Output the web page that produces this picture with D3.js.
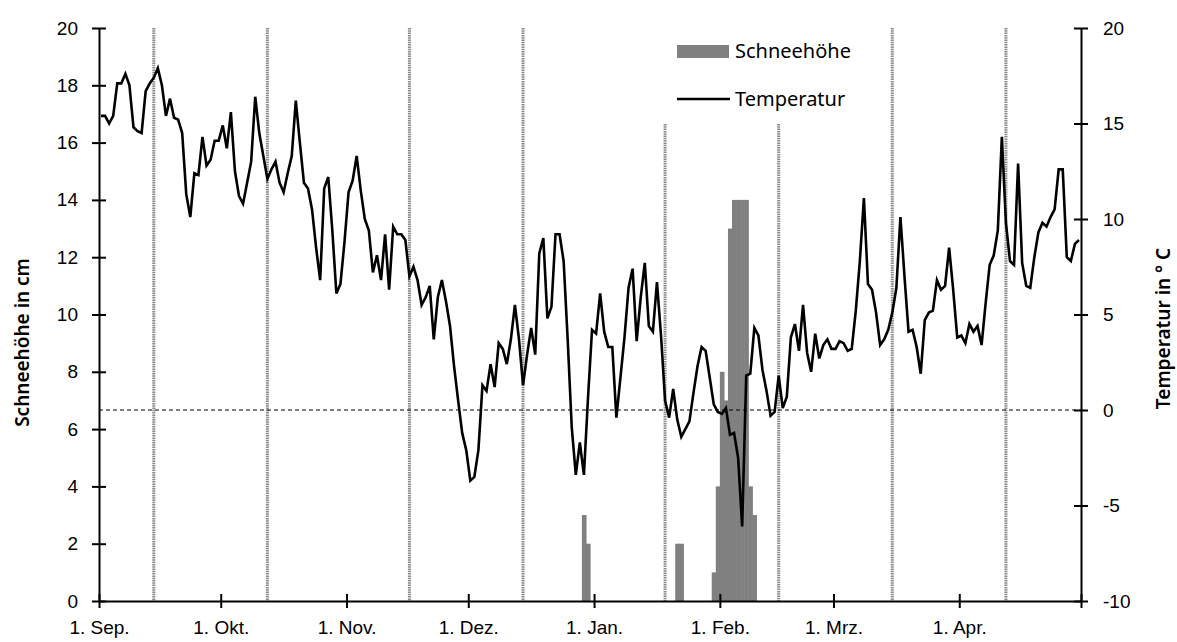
<!DOCTYPE html>
<html>
<head>
<meta charset="utf-8">
<script src="https://cdn.jsdelivr.net/npm/d3@7"></script>
<style>
  body { margin: 0; background: #fff; }
  svg { display: block; font-family: "Noto Sans", "Open Sans", sans-serif; }
  .axis path, .axis line { stroke: #000; stroke-width: 2; }
  .axis text { font-size: 19px; fill: #000; }
</style>
</head>
<body>
<div id="chart"></div>
<script>
// daily mean temperature (°C), one array per month
const tempSep = [15.4, 15.4, 15.0, 15.4, 17.1, 17.1, 17.6, 17.0, 14.8, 14.6, 14.5, 16.7, 17.1, 17.4, 17.9,
  17.0, 15.4, 16.3, 15.3, 15.2, 14.5, 11.3, 10.1, 12.4, 12.3, 14.3, 12.8, 13.1, 14.1, 14.1];
const tempOct = [14.9, 13.7, 15.6, 12.5, 11.2, 10.8, 11.9, 13.0, 16.4, 14.5, 13.3, 12.1, 12.6, 13.0, 11.9,
  11.4, 12.4, 13.3, 16.2, 14.0, 11.9, 11.6, 10.5, 8.5, 6.8, 11.6, 12.2, 9.4, 6.1, 6.6, 8.8];
const tempNov = [11.4, 12.0, 13.3, 11.5, 10.0, 9.4, 7.2, 8.1, 6.8, 9.2, 6.3, 9.6, 9.2, 9.2, 8.9,
  7.0, 7.5, 6.8, 5.5, 5.9, 6.5, 3.7, 5.9, 6.8, 5.7, 4.4, 2.3, 0.5, -1.2, -2.1];
const tempDec = [-3.7, -3.5, -2.1, 1.3, 1.0, 2.4, 1.2, 3.5, 3.2, 2.4, 3.7, 5.5, 3.7, 1.3, 2.9,
  4.3, 2.9, 8.2, 9.0, 4.8, 5.4, 9.2, 9.2, 7.8, 3.7, -0.9, -3.4, -1.7, -3.4, 0.6, 4.2];
const tempJan = [4.0, 6.1, 4.1, 3.3, 3.3, -0.4, 1.7, 3.8, 6.4, 7.4, 3.6, 5.9, 7.7, 4.4, 4.1,
  6.7, 3.9, 0.5, -0.4, 1.1, -0.5, -1.4, -1.0, -0.6, 0.9, 2.3, 3.3, 3.1, 1.7, 0.3, -0.1];
const tempFeb = [-0.2, 0.1, -1.3, -1.2, -2.5, -6.1, 1.8, 1.9, 4.3, 3.9, 2.1, 1.0, -0.3, -0.1, 1.8,
  0.1, 0.7, 3.8, 4.5, 3.1, 5.5, 3.0, 2.0, 4.0, 2.7, 3.4, 3.7, 3.2];
const tempMar = [3.2, 3.6, 3.5, 3.1, 3.2, 5.2, 7.8, 11.1, 6.6, 6.3, 5.1, 3.4, 3.7, 4.2, 5.1,
  6.4, 10.1, 7.0, 4.1, 4.2, 3.3, 1.9, 4.7, 5.1, 5.2, 6.8, 6.3, 6.5, 8.5, 6.3, 3.8];
const tempApr = [3.9, 3.5, 4.5, 4.1, 4.4, 3.4, 5.6, 7.6, 8.1, 9.4, 14.3, 9.8, 7.8, 7.6, 12.9,
  7.7, 6.5, 6.4, 8.0, 9.3, 9.8, 9.6, 10.1, 10.5, 12.6, 12.6, 8.0, 7.8, 8.7, 8.9];

// snow depth (cm), only days with snow
const snowDates = ["2014-12-29", "2014-12-30", "2015-01-21", "2015-01-22", "2015-01-30", "2015-01-31",
  "2015-02-01", "2015-02-02", "2015-02-03", "2015-02-04", "2015-02-05", "2015-02-06", "2015-02-07",
  "2015-02-08", "2015-02-09"];
const snowDepth = [3, 2, 2, 2, 1, 4, 8, 7, 13, 14, 14, 14, 14, 4, 3];

// dotted vertical marker days
const markerDates = ["2014-09-14", "2014-10-12", "2014-11-16", "2014-12-14", "2015-01-18",
  "2015-02-15", "2015-03-15", "2015-04-12"];

const monthLabels = ["1. Sep.", "1. Okt.", "1. Nov.", "1. Dez.", "1. Jan.", "1. Feb.", "1. Mrz.", "1. Apr.", ""];
const snowTicks = [0, 2, 4, 6, 8, 10, 12, 14, 16, 18, 20];
const tempTicks = [-10, -5, 0, 5, 10, 15, 20];

const W = 1177, H = 642;
const margin = { top: 28, right: 96, bottom: 41, left: 99 };
const innerW = W - margin.left - margin.right;
const innerH = H - margin.top - margin.bottom;

const parse = d3.utcParse("%Y-%m-%d");
const start = parse("2014-09-01");
const end = parse("2015-05-01");
const DAY = 864e5;

const temps = [].concat(tempSep, tempOct, tempNov, tempDec, tempJan, tempFeb, tempMar, tempApr);
const tempData = temps.map((t, i) => ({ date: new Date(+start + i * DAY), t }));
const snowData = snowDates.map((d, i) => ({ date: parse(d), cm: snowDepth[i] }));

const x = d3.scaleUtc().domain([start, end]).range([0, innerW]);
const ySnow = d3.scaleLinear().domain([0, 20]).range([innerH, 0]);
const yTemp = d3.scaleLinear().domain([-10, 20]).range([innerH, 0]);
const midDay = d => x(new Date(+d + DAY / 2));

const svg = d3.select("#chart").append("svg")
  .attr("width", W).attr("height", H);
const g = svg.append("g").attr("transform", `translate(${margin.left},${margin.top})`);

// legend geometry (also used to stop the marker lines below it)
const legend = { x: 578, y: 12, w: 190, h: 84 };

// vertical dotted markers
g.selectAll(".marker").data(markerDates.map(parse)).join("line")
  .attr("class", "marker")
  .attr("x1", midDay)
  .attr("x2", midDay)
  .attr("y1", d => {
    const px = midDay(d);
    return px > legend.x - 15 && px < legend.x + legend.w ? legend.y + legend.h : 0;
  })
  .attr("y2", innerH)
  .attr("stroke", "#8a8a8a")
  .attr("stroke-width", 3)
  .attr("stroke-dasharray", "1.5,0.8");

// snow bars (small overlap so neighbouring days join up)
g.selectAll(".snow").data(snowData).join("rect")
  .attr("class", "snow")
  .attr("x", d => x(d.date))
  .attr("width", d => x(new Date(+d.date + DAY)) - x(d.date) + 0.6)
  .attr("y", d => ySnow(d.cm))
  .attr("height", d => innerH - ySnow(d.cm))
  .attr("fill", "#808080");

// zero-degree line
g.append("line")
  .attr("x1", 0).attr("x2", innerW)
  .attr("y1", yTemp(0)).attr("y2", yTemp(0))
  .attr("stroke", "#000").attr("stroke-width", 1)
  .attr("stroke-dasharray", "4,3");

// temperature line
const line = d3.line()
  .x(d => midDay(d.date))
  .y(d => yTemp(d.t));

g.append("path").datum(tempData)
  .attr("d", line)
  .attr("fill", "none")
  .attr("stroke", "#000")
  .attr("stroke-width", 2.6);

// axes
const monthTicks = d3.utcMonth.range(start, d3.utcDay.offset(end, 1));
const xAxis = g.append("g").attr("class", "axis")
  .attr("transform", `translate(0,${innerH})`)
  .call(d3.axisBottom(x).tickValues(monthTicks).tickSize(7).tickSizeOuter(0).tickPadding(13)
    .tickFormat((d, i) => monthLabels[i]));
xAxis.selectAll(".tick line").attr("y1", -7);

const yLeft = g.append("g").attr("class", "axis")
  .call(d3.axisLeft(ySnow).tickValues(snowTicks).tickSize(7).tickSizeOuter(0).tickPadding(14)
    .tickFormat(d => String(d)));
yLeft.selectAll(".tick line").attr("x1", 7);

const yRight = g.append("g").attr("class", "axis")
  .attr("transform", `translate(${innerW},0)`)
  .call(d3.axisRight(yTemp).tickValues(tempTicks).tickSize(7).tickSizeOuter(0).tickPadding(15)
    .tickFormat(d => String(d)));
yRight.selectAll(".tick line").attr("x1", -7);

// axis titles
svg.append("text")
  .attr("transform", `translate(29,${margin.top + innerH / 2 + 28}) rotate(-90)`)
  .attr("text-anchor", "middle")
  .attr("font-size", 19).attr("font-weight", 600)
  .text("Schneehöhe in cm");

svg.append("text")
  .attr("transform", `translate(1170,${margin.top + innerH / 2 + 14}) rotate(-90)`)
  .attr("text-anchor", "middle")
  .attr("font-size", 19).attr("font-weight", 600)
  .text("Temperatur in ° C");

// legend
const lg = g.append("g").attr("transform", `translate(${legend.x},${legend.y})`);
lg.append("rect").attr("x", 0).attr("y", 5).attr("width", 52).attr("height", 13).attr("fill", "#808080");
lg.append("text").attr("x", 58).attr("y", 18).attr("font-size", 20).text("Schneehöhe");
lg.append("line").attr("x1", 0).attr("x2", 53).attr("y1", 59).attr("y2", 59)
  .attr("stroke", "#000").attr("stroke-width", 2.6);
lg.append("text").attr("x", 58).attr("y", 66).attr("font-size", 20).text("Temperatur");
</script>
</body>
</html>
